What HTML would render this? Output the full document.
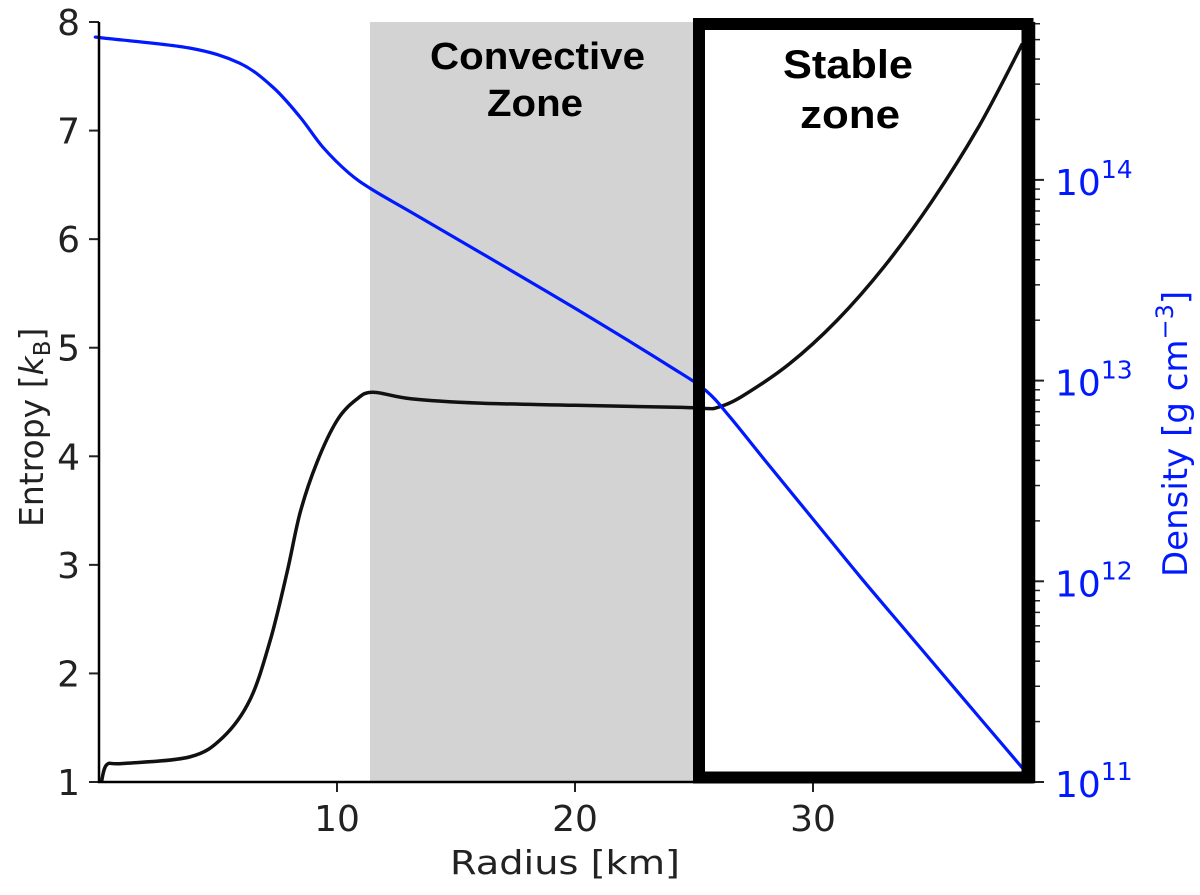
<!DOCTYPE html>
<html><head><meta charset="utf-8"><style>
body{margin:0;background:#fff}
svg text{font-family:"DejaVu Sans","Liberation Sans",sans-serif}
</style></head><body>
<svg id="chart" width="1200" height="890">
<rect x="370" y="22" width="323" height="760" fill="#d3d3d3"/>
<g id="g"></g>
<path d="M99 22 V782 H1034 V22" fill="none" stroke="#000" stroke-width="2.5"/>
<rect x="699" y="24" width="328.5" height="753.5" fill="none" stroke="#000" stroke-width="12"/>
<text font-weight="bold" font-size="38" style="font-family:'Liberation Sans',sans-serif"><tspan x="430" y="69" textLength="215" lengthAdjust="spacingAndGlyphs">Convective</tspan><tspan x="487" y="116" textLength="96" lengthAdjust="spacingAndGlyphs">Zone</tspan></text>
<text font-weight="bold" font-size="40" style="font-family:'Liberation Sans',sans-serif"><tspan x="783" y="78" textLength="130" lengthAdjust="spacingAndGlyphs">Stable</tspan><tspan x="800" y="128" textLength="100" lengthAdjust="spacingAndGlyphs">zone</tspan></text>
<text x="450" y="874" font-size="33" textLength="230" lengthAdjust="spacingAndGlyphs" fill="#222">Radius [km]</text>
<text transform="translate(43,527) rotate(-90)" font-size="33" fill="#222">Entropy [<tspan font-style="italic">k</tspan><tspan font-size="23" dy="7">B</tspan><tspan dy="-7">]</tspan></text>
<text transform="translate(1187,577) rotate(-90)" font-size="34" fill="#0019ff">Density [g cm<tspan font-size="24" dy="-14">−3</tspan><tspan dy="14">]</tspan></text>
</svg>
<script>
const xTicks=[10,20,30];
const yTicks=[1,2,3,4,5,6,7,8];
const y2Ticks=[11,12,13,14];
const radius=[0.1,0.33,1,3.8,5.2,6.35,7.2,7.9,8.45,9.15,10,10.8,11.5,13.1,16,20,24.5,25.5,26,27,29,31,33,35,37,38.8];
const entropy=[1,1.16,1.17,1.23,1.41,1.76,2.31,2.93,3.48,3.94,4.33,4.52,4.59,4.53,4.49,4.47,4.45,4.44,4.45,4.55,4.85,5.25,5.75,6.35,7.05,7.8];
const dRadius=[0,0.17,3.8,5.9,7.3,8.45,9.4,10.5,11.5,13.1,16,20,24,25.5,26.5,28,30,32,34,36,38.8];
const logDensity=[14.71,14.707,14.657,14.582,14.463,14.313,14.164,14.034,13.95,13.84,13.64,13.36,13.07,12.95,12.82,12.6,12.31,12.02,11.74,11.46,11.07];
const X=r=>99+r*23.8, Y=e=>782-(e-1)*108.57, Y2=l=>782-(l-11)*200.7;
const g=document.getElementById('g'),NS='http://www.w3.org/2000/svg';
function mk(t,a){const e=document.createElementNS(NS,t);for(const k in a)e.setAttribute(k,a[k]);g.appendChild(e);return e;}
function smooth(p){let d='M'+p[0][0].toFixed(1)+' '+p[0][1].toFixed(1);
for(let i=0;i<p.length-1;i++){const p0=p[Math.max(i-1,0)],p1=p[i],p2=p[i+1],p3=p[Math.min(i+2,p.length-1)];
const c1=[p1[0]+(p2[0]-p0[0])/6,p1[1]+(p2[1]-p0[1])/6],c2=[p2[0]-(p3[0]-p1[0])/6,p2[1]-(p3[1]-p1[1])/6];
d+=' C'+c1.map(v=>v.toFixed(1)).join(' ')+' '+c2.map(v=>v.toFixed(1)).join(' ')+' '+p2[0].toFixed(1)+' '+p2[1].toFixed(1);}
return d;}
xTicks.forEach(v=>{const l=mk('line',{x1:X(v),x2:X(v),y1:782,y2:792,stroke:'#222','stroke-width':2});


const t=mk('text',{x:X(v),y:831,'font-size':36,'text-anchor':'middle',fill:'#222'});t.textContent=v;

});
yTicks.forEach(v=>{const l=mk('line',{x1:89,x2:99,y1:Y(v),y2:Y(v),stroke:'#222','stroke-width':2});


const t=mk('text',{x:80,y:Y(v)+13,'font-size':36,'text-anchor':'end',fill:'#222'});t.textContent=v;

});
y2Ticks.forEach(v=>{const l=mk('line',{x1:1034,x2:1044,y1:Y2(v),y2:Y2(v),stroke:'#222','stroke-width':2});


for(let m=2;m<10;m++){const yy=Y2(v+Math.log10(m));if(yy<22)break;const ml=mk('line',{x1:1034,x2:1040,y1:yy,y2:yy,stroke:'#222','stroke-width':1.5});

}
const t=mk('text',{x:1055,y:Y2(v)+15,'font-size':36,fill:'#0019ff'});t.innerHTML='10<tspan font-size="25" dy="-17">'+v+'</tspan>';

});
const e=mk('path',{d:smooth(radius.map((r,i)=>[X(r),Y(entropy[i])])),fill:'none',stroke:'#111','stroke-width':3.5,'stroke-linejoin':'round'});


const d=mk('path',{d:smooth(dRadius.map((r,i)=>[X(r),Y2(logDensity[i])])),fill:'none',stroke:'#0019ff','stroke-width':3.2,'stroke-linejoin':'round'});


</script>
</body></html>
